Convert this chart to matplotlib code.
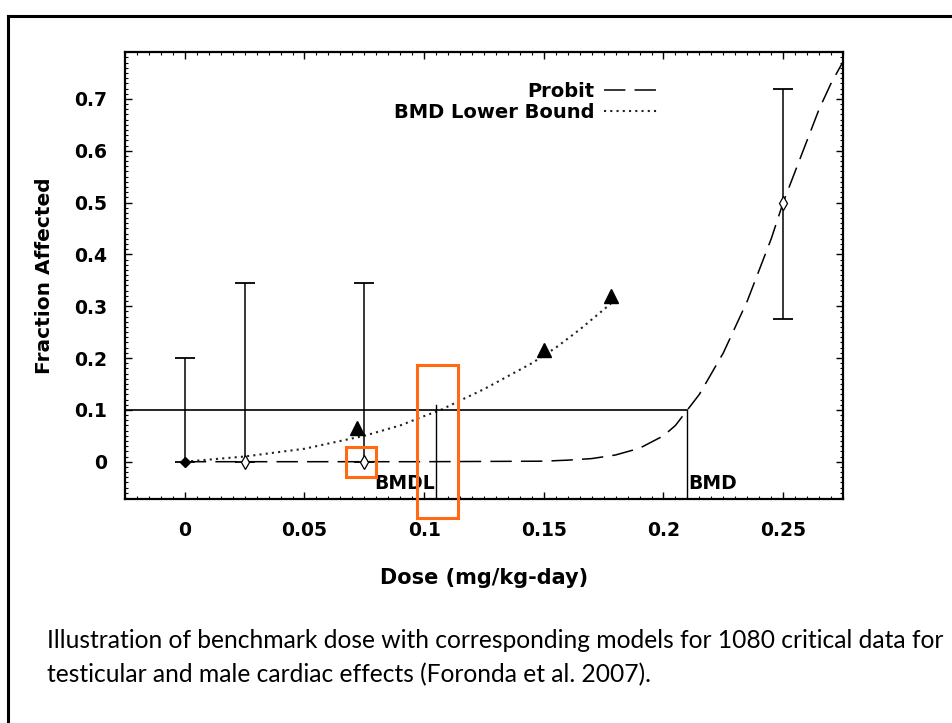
import matplotlib.pyplot as plt
from matplotlib.ticker import MultipleLocator
from matplotlib.patches import Rectangle
from matplotlib.lines import Line2D

# Data
dose = [0, 0.025, 0.075, 0.25]
frac = [0, 0, 0, 0.5]
err_lo = [0, 0, 0, 0.275]
err_hi = [0.2, 0.345, 0.345, 0.72]

probit_x = [0, 0.05, 0.10, 0.15, 0.16, 0.17, 0.18, 0.19, 0.20, 0.205, 0.21, 0.215,
            0.22, 0.225, 0.23, 0.235, 0.24, 0.245, 0.25, 0.255, 0.26, 0.265, 0.27, 0.276]
probit_y = [0, 0, 0, 0.001, 0.003, 0.006, 0.013, 0.026, 0.05, 0.07, 0.1, 0.13,
            0.17, 0.21, 0.26, 0.31, 0.37, 0.43, 0.5, 0.56, 0.62, 0.68, 0.73, 0.78]

lower_x = [0, 0.025, 0.05, 0.075, 0.09, 0.1, 0.107, 0.115, 0.125, 0.135, 0.145, 0.155, 0.165, 0.178]
lower_y = [0, 0.01, 0.025, 0.05, 0.07, 0.088, 0.1, 0.118, 0.14, 0.165, 0.19, 0.22, 0.255, 0.305]

tri_x = [0.072, 0.150, 0.178]
tri_y = [0.065, 0.215, 0.32]

bmr = 0.1
bmd = 0.21
bmdl = 0.105

fig = plt.figure(figsize=(9.52, 7.23), dpi=100)
ax = fig.add_axes([0.1313, 0.3098, 0.7542, 0.6179])

dash_probit = (14, 6)
dash_lower = (1.0, 2.0)

ax.plot(probit_x, probit_y, color='black', lw=1.1, dashes=dash_probit, label='Probit')
ax.plot(lower_x, lower_y, color='#222222', lw=1.5, dashes=dash_lower, label='BMD Lower Bound')
ax.plot(tri_x, tri_y, linestyle='none', marker='^', ms=10, color='black')

# error bars
ax.errorbar(dose, frac, yerr=[[f - l for f, l in zip(frac, err_lo)],
                              [h - f for f, h in zip(frac, err_hi)]],
            fmt='none', ecolor='black', elinewidth=1.1, capsize=7, capthick=1.3)
ax.plot(dose[:1], frac[:1], linestyle='none', marker='D', ms=5, color='black')
ax.plot(dose[1:], frac[1:], linestyle='none', marker='d', ms=7,
        mfc='white', mec='black', mew=0.9)

# benchmark lines
ax.plot([-0.025, bmd], [bmr, bmr], color='black', lw=1.2)
ax.plot([bmd, bmd], [-0.072, bmr], color='black', lw=1.0)
ax.plot([bmdl, bmdl], [-0.072, 0.11], color='black', lw=1.0)
ax.text(bmdl - 0.0003, -0.043, 'BMDL', ha='right', va='center', fontsize=13.5, fontweight='bold')
ax.text(bmd + 0.0003, -0.043, 'BMD', ha='left', va='center', fontsize=13.5, fontweight='bold')

ax.set_xlim(-0.025, 0.275)
ax.set_ylim(-0.072, 0.79)
ax.set_xticks([0, 0.05, 0.1, 0.15, 0.2, 0.25])
ax.set_xticklabels(['0', '0.05', '0.1', '0.15', '0.2', '0.25'])
ax.set_yticks([0, 0.1, 0.2, 0.3, 0.4, 0.5, 0.6, 0.7])
ax.set_yticklabels(['0', '0.1', '0.2', '0.3', '0.4', '0.5', '0.6', '0.7'])
ax.xaxis.set_minor_locator(MultipleLocator(0.005))
ax.yaxis.set_minor_locator(MultipleLocator(0.01))
ax.tick_params(which='both', direction='in', top=True, right=True)
ax.tick_params(which='major', length=5, width=1, labelsize=13.5)
ax.tick_params(axis='x', which='major', pad=16)
ax.tick_params(axis='y', which='major', pad=13)
ax.tick_params(which='minor', length=2, width=0.8)
for lab in ax.get_xticklabels() + ax.get_yticklabels():
    lab.set_fontweight('bold')
for s in ax.spines.values():
    s.set_linewidth(1.6)

ax.set_xlabel('Dose (mg/kg-day)', fontsize=15, fontweight='bold', labelpad=20)
ax.set_ylabel('Fraction Affected', fontsize=14.5, fontweight='bold', labelpad=14)

handles = [Line2D([], [], color='black', lw=1.1, dashes=dash_probit),
           Line2D([], [], color='#222222', lw=1.5, dashes=dash_lower)]
ax.legend(handles, ['Probit', 'BMD Lower Bound'], loc='upper right',
          bbox_to_anchor=(0.765, 0.972), frameon=False, markerfirst=False,
          prop={'weight': 'bold', 'size': 14}, handlelength=2.7,
          handletextpad=0.5, labelspacing=0.1)

# orange highlight boxes (pixel positions on the slide)
for (x0, y0, w, h) in [(346, 447, 30, 30), (417, 365, 41, 153)]:
    fig.patches.append(Rectangle((x0 / 952, 1 - (y0 + h) / 723), w / 952, h / 723,
                                 transform=fig.transFigure, fill=False,
                                 edgecolor='#ff6a13', lw=2.2))

# slide border
fig.add_artist(Line2D([8 / 952, 8 / 952], [0, 1 - 16 / 723], color='black', lw=2.2))
fig.add_artist(Line2D([8 / 952, 1], [1 - 16 / 723, 1 - 16 / 723], color='black', lw=2.2))

caption = ['Illustration of benchmark dose with corresponding models for 1080 critical data for',
           'testicular and male cardiac effects (Foronda et al. 2007).']
for i, line in enumerate(caption):
    fig.text(47 / 952, 1 - (641 + 34 * i) / 723, line,
             ha='left', va='center', fontsize=17.7, family='Lato')

fig.savefig('out.png', dpi=100)
